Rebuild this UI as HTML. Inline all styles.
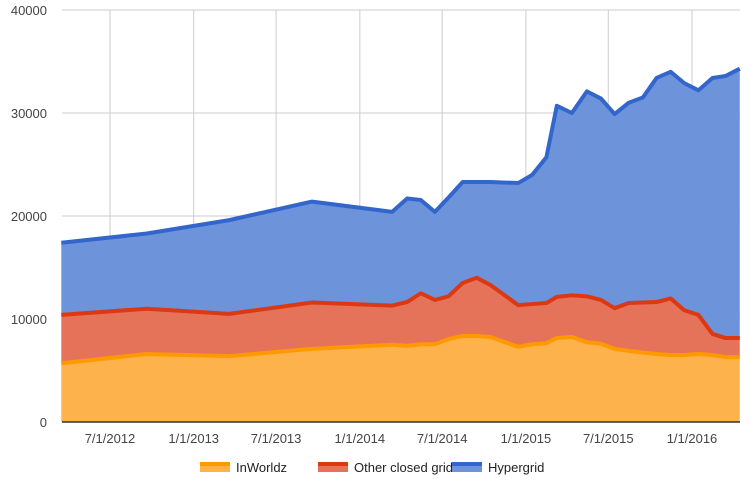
<!DOCTYPE html>
<html><head><meta charset="utf-8"><style>
body{margin:0;background:#fff;font-family:"Liberation Sans",Arial,sans-serif}
</style></head><body>
<svg id="chart" width="755" height="487" xmlns="http://www.w3.org/2000/svg"></svg>
<script>
const dates=["2012-03-16","2012-09-20","2013-03-20","2013-09-18","2014-03-13","2014-04-15","2014-05-15","2014-06-15","2014-07-15","2014-08-15","2014-09-15","2014-10-15","2014-12-15","2015-01-15","2015-02-15","2015-03-10","2015-04-12","2015-05-15","2015-06-15","2015-07-15","2015-08-15","2015-09-15","2015-10-15","2015-11-15","2015-12-15","2016-01-15","2016-02-15","2016-03-15","2016-04-15"];
const inworldz=[5700,6600,6400,7100,7500,7400,7550,7550,8050,8350,8350,8250,7300,7550,7650,8150,8250,7750,7600,7100,6900,6750,6600,6500,6500,6600,6500,6300,6300];
const otherGrids=[4700,4400,4100,4500,3800,4250,4950,4300,4150,5150,5650,5050,4050,3900,3900,4000,4050,4450,4250,3950,4650,4850,5050,5500,4350,3800,2050,1850,1850];
const hypergrid=[7000,7300,9100,9800,9100,10050,9050,8550,9600,9800,9300,10000,11850,12550,14150,18550,17700,19900,19550,18850,19450,19900,21750,22000,22050,21800,24850,25450,26150];
const yTicks=[0,10000,20000,30000,40000];
const xTicks=["2012-07-01","2013-01-01","2013-07-01","2014-01-01","2014-07-01","2015-01-01","2015-07-01","2016-01-01"];
const xTickLabels=["7/1/2012","1/1/2013","7/1/2013","1/1/2014","7/1/2014","1/1/2015","7/1/2015","1/1/2016"];
const seriesNames=["InWorldz","Other closed grids","Hypergrid"];

const svg=document.getElementById('chart');const NS="http://www.w3.org/2000/svg";
const L=62,R=740,T=10,B=422;
const d0=Date.parse("2012-07-01"),d1=Date.parse("2016-01-01");
function xs(d){return 110+(Date.parse(d)-d0)/(d1-d0)*(692-110);}
function ys(v){return B-(v/40000)*(B-T);}
function mk(tag,attrs,name){const e=document.createElementNS(NS,tag);for(const k in attrs)e.setAttribute(k,attrs[k]);


svg.appendChild(e);return e;}
yTicks.forEach(v=>{if(v>0)mk('line',{x1:L,x2:R,y1:ys(v),y2:ys(v),stroke:'#ccc','stroke-width':1},'y-gridline');
const t=mk('text',{x:47,y:ys(v)+5,'text-anchor':'end','font-size':13,fill:'#444'},'y-tick-label');t.textContent=v;});
xTicks.forEach((d,i)=>{mk('line',{x1:xs(d),x2:xs(d),y1:T,y2:B,stroke:'#ccc','stroke-width':1},'x-gridline');
const t=mk('text',{x:xs(d),y:443,'text-anchor':'middle','font-size':13,fill:'#444'},'x-tick-label');t.textContent=xTickLabels[i];});
const series=[inworldz,otherGrids,hypergrid];
const fills=['#feb24c','#e5735a','#6d93db'],strokes=['#ff9900','#dc3912','#3366cc'];
const ids=['inworldz','other-closed-grids','hypergrid'];
let base=dates.map(()=>0);
series.forEach((s,si)=>{
 const top=s.map((v,i)=>base[i]+v);
 let p=dates.map((d,i)=>xs(d)+','+ys(top[i]));
 let pb=dates.map((d,i)=>xs(d)+','+ys(base[i])).reverse();
 mk('polygon',{points:p.concat(pb).join(' '),fill:fills[si],opacity:1},'area-'+ids[si]);
 base=top;
});
base=dates.map(()=>0);
series.forEach((s,si)=>{
 const top=s.map((v,i)=>base[i]+v);
 mk('polyline',{points:dates.map((d,i)=>xs(d)+','+ys(top[i])).join(' '),fill:'none',stroke:strokes[si],'stroke-width':4,'stroke-linejoin':'round'},'line-'+ids[si]);
 base=top;
});
mk('line',{x1:L,x2:R,y1:B,y2:B,stroke:'#333','stroke-width':1.5},'x-axis-baseline');
const lx=[200,318,452];
seriesNames.forEach((n,i)=>{
 const g=mk('g',{},'legend-entry-'+ids[i]);
 const r=document.createElementNS(NS,'rect');r.setAttribute('x',lx[i]);r.setAttribute('y',462);r.setAttribute('width',30);r.setAttribute('height',10);r.setAttribute('fill',fills[i]);
 
 
 g.appendChild(r);
 const r2=document.createElementNS(NS,'rect');r2.setAttribute('x',lx[i]);r2.setAttribute('y',462);r2.setAttribute('width',30);r2.setAttribute('height',4);r2.setAttribute('fill',strokes[i]);
 
 
 g.appendChild(r2);
 const t=document.createElementNS(NS,'text');t.setAttribute('x',lx[i]+36);t.setAttribute('y',472);t.setAttribute('font-size',13);t.setAttribute('fill','#222');t.textContent=n;
 
 
 g.appendChild(t);
});
</script>
</body></html>
